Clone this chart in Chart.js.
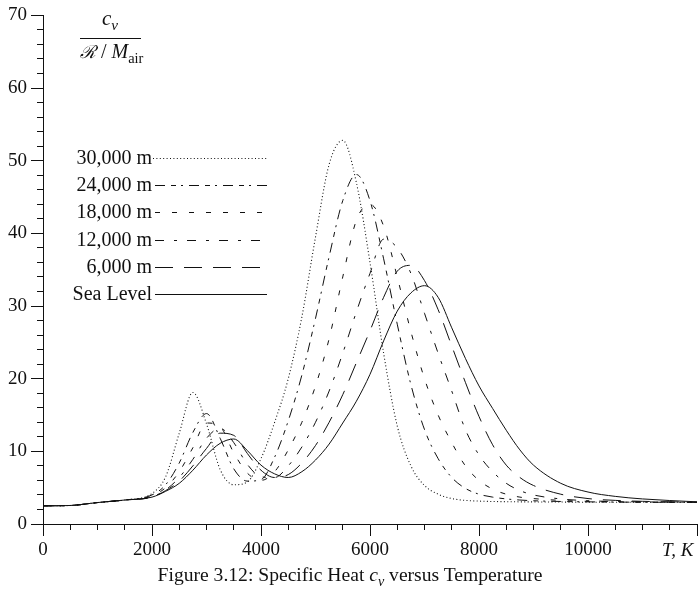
<!DOCTYPE html>
<html>
<head>
<meta charset="utf-8">
<script src="https://cdn.jsdelivr.net/npm/chart.js@4.4.1/dist/chart.umd.min.js"></script>
<style>
  html, body { margin:0; padding:0; background:#fff; }
  body { width:700px; height:595px; position:relative; overflow:hidden; font-family:'Liberation Serif','Times New Roman',serif; color:#111; }
  #c { position:absolute; left:0; top:0; }
  .abs { position:absolute; white-space:nowrap; }
  sub { font-size:0.72em; vertical-align:-0.35em; line-height:0; }
  .leg { position:absolute; left:0; width:152px; text-align:right; font-size:20px; line-height:22px; }
</style>
</head>
<body>
<canvas id="c" width="700" height="595"></canvas>

<!-- y-axis label: c_v / (R / M_air) -->
<div class="abs" style="left:78px;top:6px;width:64px;text-align:center;font-size:21px;font-style:italic;">c<sub>v</sub></div>
<div class="abs" style="left:80px;top:38px;width:61px;height:1px;background:#111;"></div>
<div class="abs" style="left:80px;top:39px;font-size:20px;"><span style="font-family:'DejaVu Serif','Liberation Serif',serif;font-size:18px;font-style:italic">ℛ</span> / <i>M</i><sub>air</sub></div>

<div id="legend"></div>
<svg id="legsvg" class="abs" style="left:0;top:0" width="700" height="595"></svg>

<div class="abs" style="left:662px;top:539px;font-size:19px;font-style:italic;">T, K</div>
<div class="abs" style="left:0;width:700px;top:564px;text-align:center;font-size:19.6px;">Figure 3.12: Specific Heat <i>c<sub>v</sub></i> versus Temperature</div>

<script>
// ---- data ----
const temperatures = [0,500,1000,1500,2000,2250,2500,2750,3000,3250,3500,3750,4000,4250,4500,4750,5000,5250,5500,5750,6000,6250,6500,6750,7000,7250,7500,7750,8000,8250,8500,8750,9000,9500,10000,10500,11000,12000];

const seriesNames = ['30,000 m','24,000 m','18,000 m','12,000 m','6,000 m','Sea Level'];

const cv30000 = [2.5,2.55,2.95,3.3,4.2,6.5,12.5,18.1,13.8,7.5,5.4,5.8,9.0,14.0,20.0,28.5,39.5,49.5,52.8,47.0,36.0,23.5,13.5,8.0,5.3,4.1,3.5,3.25,3.15,3.1,3.07,3.05,3.04,3.02,3.0,3.0,3.0,2.98];
const cv24000 = [2.5,2.55,2.95,3.3,4.0,5.4,8.4,12.6,15.2,11.8,7.6,5.9,6.1,9.2,14.2,20.5,28.3,36.8,44.5,48.1,44.5,36.5,27.5,19.2,13.0,9.0,6.4,4.9,4.1,3.7,3.45,3.3,3.2,3.1,3.05,3.02,3.0,2.98];
const cv18000 = [2.5,2.55,2.95,3.3,3.85,5.0,7.2,10.5,13.9,13.4,9.8,7.0,6.0,7.2,10.2,14.0,19.0,25.5,34.0,41.8,44.0,41.0,34.0,26.5,20.0,15.0,11.2,8.0,6.0,4.8,4.1,3.7,3.5,3.25,3.12,3.06,3.02,2.98];
const cv12000 = [2.5,2.55,2.95,3.3,3.75,4.7,6.4,8.9,11.8,13.2,11.2,8.2,6.5,6.4,8.0,10.6,14.0,18.3,23.5,29.2,34.5,39.2,38.0,34.5,29.0,23.5,18.3,13.0,9.5,7.2,5.6,4.6,4.0,3.45,3.2,3.1,3.04,2.99];
const cv6000  = [2.5,2.55,2.95,3.3,3.7,4.6,5.9,8.0,10.4,12.5,12.2,9.7,7.4,6.4,6.8,8.4,10.8,14.0,17.8,22.2,26.6,31.2,34.8,35.6,33.5,29.5,24.5,19.5,14.8,10.9,8.1,6.4,5.3,4.1,3.5,3.25,3.12,3.0];
const cvSea   = [2.5,2.55,2.95,3.3,3.7,4.5,5.6,7.4,9.5,11.1,11.7,10.1,8.1,6.9,6.4,7.2,8.8,11.0,13.9,16.9,20.6,25.2,29.3,31.8,32.8,31.2,27.0,22.8,19.0,15.9,12.9,10.2,8.1,5.6,4.4,3.8,3.45,3.05];

const xMajorTicks = [0,2000,4000,6000,8000,10000];
const yMajorTicks = [0,10,20,30,40,50,60,70];

// ---- styles ----
const lineDashes = [[1,2.4],[10,6,5,5,2,6],[5,12],[9,10,3,10],[18,11],[]];
const allSeries = [cv30000,cv24000,cv18000,cv12000,cv6000,cvSea];
const ink = '#111';

const datasets = allSeries.map((vals,i)=>({
  label: seriesNames[i],
  data: temperatures.map((t,j)=>({x:t,y:vals[j]})),
  borderColor: ink,
  borderWidth: i===0 ? 1.1 : 1,
  borderDash: lineDashes[i],
  pointRadius: 0,
  fill: false,
  cubicInterpolationMode: 'monotone'
}));

Chart.defaults.font.family = "'Liberation Serif','Times New Roman',serif";
Chart.defaults.color = ink;

new Chart(document.getElementById('c'), {
  type: 'line',
  data: { datasets },
  options: {
    responsive: false,
    animation: false,
    devicePixelRatio: 1,
    layout: { padding: { top: 13, right: 0, bottom: 0, left: 0 } },
    plugins: { legend: { display: false }, tooltip: { enabled: false } },
    scales: {
      x: {
        type: 'linear', min: 0, max: 12000,
        border: { color: ink, width: 1 },
        grid: {
          drawOnChartArea: false, drawTicks: true, tickLength: 12, tickColor: ink, tickWidth: 1,
          tickBorderDash: ctx => (ctx.tick && xMajorTicks.concat([12000]).includes(ctx.tick.value)) ? [] : [5, 30]
        },
        ticks: {
          stepSize: 500, autoSkip: false, maxRotation: 0, padding: 3,
          font: { size: 19 }, color: ink,
          callback: v => xMajorTicks.includes(v) ? String(v) : ''
        },
        afterFit: s => { s.height = 71; }
      },
      y: {
        type: 'linear', min: 0, max: 70,
        border: { color: ink, width: 1 },
        grid: {
          drawOnChartArea: false, drawTicks: true, tickLength: 12, tickColor: ink, tickWidth: 1,
          tickBorderDash: ctx => (ctx.tick && yMajorTicks.includes(ctx.tick.value)) ? [] : [0, 6, 6, 30]
        },
        ticks: {
          stepSize: 2, autoSkip: false, padding: 4,
          font: { size: 19 }, color: ink,
          callback: v => yMajorTicks.includes(v) ? String(v) : ''
        },
        afterFit: s => { s.width = 43; }
      }
    }
  }
});

// ---- legend (text right-aligned, line sample to the right) ----
const legendRowsY = [157, 184, 211, 239, 266, 293];
const legend = document.getElementById('legend');
const svg = document.getElementById('legsvg');
seriesNames.forEach((name,i)=>{
  const d = document.createElement('div');
  d.className = 'leg';
  d.style.top = (legendRowsY[i] - 11) + 'px';
  d.textContent = name;
  legend.appendChild(d);
  const ln = document.createElementNS('http://www.w3.org/2000/svg','line');
  ln.setAttribute('x1', i === 0 ? 153 : 155); ln.setAttribute('x2', 267);
  ln.setAttribute('y1', legendRowsY[i] + 1.5); ln.setAttribute('y2', legendRowsY[i] + 1.5);
  ln.setAttribute('stroke', ink); ln.setAttribute('stroke-width', 1);
  if (lineDashes[i].length) ln.setAttribute('stroke-dasharray', lineDashes[i].join(' '));
  svg.appendChild(ln);
});
</script>
</body>
</html>
